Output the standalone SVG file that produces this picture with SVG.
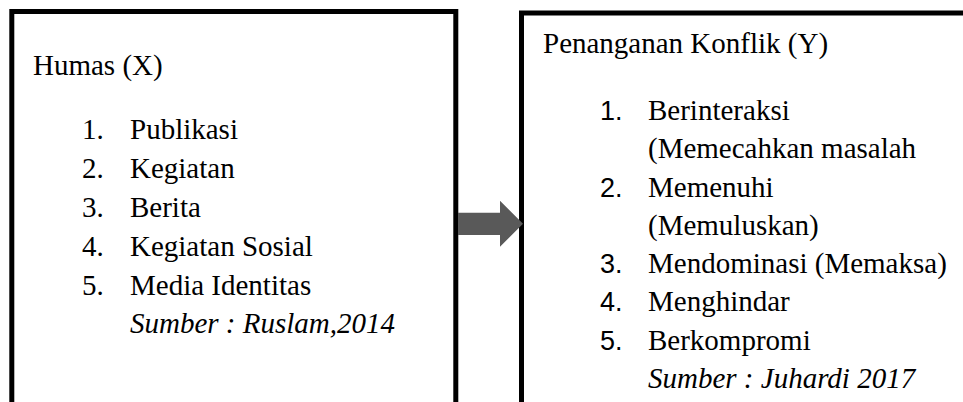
<svg xmlns="http://www.w3.org/2000/svg" width="963" height="402" viewBox="0 0 963 402">
<style>
.box{fill:none;stroke:#000;stroke-width:5}
.t{font-family:"Liberation Serif","Times New Roman",serif;font-size:29px;fill:#000}
.i{font-style:italic}
.n{font-family:"Liberation Sans",Arial,sans-serif;font-size:27px;fill:#000}
</style>
<rect width="963" height="402" fill="#fff"/>
<g id="node-humas">
<path class="box" d="M11.8,410 V11.5 H455.8 V410"/>
<text class="t" x="33" y="75">Humas (X)</text>
<text class="t" x="82" y="139">1.</text><text class="t" x="130" y="139">Publikasi</text>
<text class="t" x="82" y="178">2.</text><text class="t" x="130" y="178">Kegiatan</text>
<text class="t" x="82" y="217">3.</text><text class="t" x="130" y="217">Berita</text>
<text class="t" x="82" y="256">4.</text><text class="t" x="130" y="256">Kegiatan Sosial</text>
<text class="t" x="82" y="295">5.</text><text class="t" x="130" y="295">Media Identitas</text>
<text class="t i" x="130" y="333">Sumber : Ruslam,2014</text>
</g>
<g id="node-konflik">
<path class="box" d="M521.5,410 V13 H970"/>
<text class="t" x="543" y="53">Penanganan Konflik (Y)</text>
<text class="n" x="600" y="120">1.</text><text class="t" x="648" y="120">Berinteraksi</text>
<text class="t" x="648" y="158">(Memecahkan masalah</text>
<text class="n" x="600" y="197">2.</text><text class="t" x="648" y="197">Memenuhi</text>
<text class="t" x="648" y="235">(Memuluskan)</text>
<text class="n" x="600" y="273">3.</text><text class="t" x="648" y="273">Mendominasi (Memaksa)</text>
<text class="n" x="600" y="311">4.</text><text class="t" x="648" y="311">Menghindar</text>
<text class="n" x="600" y="350">5.</text><text class="t" x="648" y="350">Berkompromi</text>
<text class="t i" x="648" y="388">Sumber : Juhardi 2017</text>
</g>
<g id="connectors">
<polygon fill="#595959" points="458,212.7 500,212.7 500,200.7 523,223.7 500,246.7 500,235 458,235"/>
</g>
</svg>
